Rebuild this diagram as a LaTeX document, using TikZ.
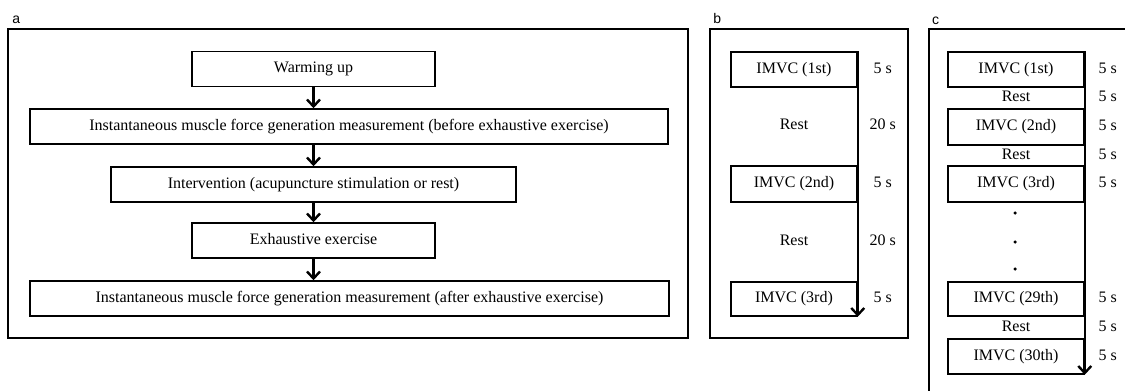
\documentclass[tikz,border=0pt]{standalone}
\usepackage{fontspec}
\setmainfont{Liberation Serif}
\newfontfamily\tagfont{Liberation Sans}
\usetikzlibrary{positioning,arrows.meta}
\tikzset{
  stage/.style={ % box of one stage of the protocol
    draw, rectangle, line width=1.5pt, minimum height=35pt,
    inner sep=0pt, text=black, text height=11pt, text depth=3.5pt,
    font=\fontsize{16}{19}\selectfont
  },
  imvc/.style={ % box of one contraction
    stage, minimum width=126pt
  },
  plain/.style={ % text with no box round it
    inner sep=0pt, text=black, text height=11pt, text depth=3.5pt,
    font=\fontsize{16}{19}\selectfont
  },
  panel/.style={ % frame round one part of the figure
    draw, rectangle, line width=1.8pt, inner sep=0pt
  },
  tag/.style={inner sep=0pt, font=\tagfont\fontsize{14}{16}\selectfont},
  flow/.style={-{Straight Barb[length=7pt,width=13pt]}, line width=2.4pt},
  dotmark/.style={circle, fill=black, inner sep=0pt, minimum size=3.5pt}
}
\begin{document}
\begin{tikzpicture}[x=1pt, y=-1pt]
    \useasboundingbox (0,0) rectangle (1125,391);

    % part a
    \node[panel, minimum width=680pt, minimum height=309pt] (fa) at (348,183.5) {};
    \node (a_label)[tag, above right=4pt and 5pt of fa.north west]{a};

    \node[stage, minimum width=243pt] (warm) at (313.5,69) {Warming up};
    \node[stage, minimum width=638pt] (before) at (349,126.5) {Instantaneous muscle force generation measurement (before exhaustive exercise)};
    \node[stage, minimum width=405pt] (interv) at (313.5,184.5) {Intervention (acupuncture stimulation or rest)};
    \node[stage, minimum width=243pt] (exhaust) at (313.5,240.5) {Exhaustive exercise};
    \node[stage, minimum width=639pt] (after) at (349.5,298.5) {Instantaneous muscle force generation measurement (after exhaustive exercise)};

    \draw[flow] (warm.south) -- (warm.south |- before.north);
    \draw[flow] (warm.south |- before.south) -- (interv.north);
    \draw[flow] (interv.south) -- (exhaust.north);
    \draw[flow] (exhaust.south) -- (exhaust.south |- after.north);

    % part b
    \node[panel, minimum width=198pt, minimum height=309pt] (fb) at (809,183.5) {};
    \node (b_label)[tag, above right=4pt and 4pt of fb.north west]{b};

    \node[imvc] (b1) at (794,69.5) {IMVC (1st)};
    \node[plain] (br1) at (794,126) {Rest};
    \node[imvc, minimum height=36pt] (b2) at (794,184) {IMVC (2nd)};
    \node[plain] (br2) at (794,242) {Rest};
    \node[imvc, minimum height=34pt] (b3) at (794,299) {IMVC (3rd)};

    \node[plain] (bt1) at ([xshift=25pt]b1.east) {5 s};
    \node[plain] (bt2) at (br1 -| bt1) {20 s};
    \node[plain] (bt3) at (b2 -| bt1) {5 s};
    \node[plain] (bt4) at (br2 -| bt1) {20 s};
    \node[plain] (bt5) at (b3 -| bt1) {5 s};

    \draw[flow] (b1.north east) -- (b3.south east);

    % part c (runs past the edge of the figure)
    \coordinate (fc_low) at (929,391);
    \coordinate (fc) at (929,29);
    \coordinate (fc_right) at (1125,29);
    \draw[panel, line width=2.6pt] (fc_low) -- (fc) -- (fc_right);
    \node (c_label)[tag, above right=4pt and 3pt of fc]{c};

    \node[imvc, minimum width=136pt] (c1) at (1016,69.5) {IMVC (1st)};
    \node[plain] (cr1) at (1016,98) {Rest};
    \node[imvc, minimum width=136pt, minimum height=36pt] (c2) at (1016,127) {IMVC (2nd)};
    \node[plain] (cr2) at (1016,155.5) {Rest};
    \node[imvc, minimum width=136pt, minimum height=36pt] (c3) at (1016,184) {IMVC (3rd)};
    \node[dotmark] (dot1) at (1015,213) {};
    \node[dotmark] (dot2) at (1015,242) {};
    \node[dotmark] (dot3) at (1015,269) {};
    \node[imvc, minimum width=136pt, minimum height=34pt] (c29) at (1016,299) {IMVC (29th)};
    \node[plain] (cr29) at (1016,327.5) {Rest};
    \node[imvc, minimum width=136pt] (c30) at (1016,356.5) {IMVC (30th)};

    \node[plain] (ct1) at ([xshift=23pt]c1.east) {5 s};
    \node[plain] (ct2) at (cr1 -| ct1) {5 s};
    \node[plain] (ct3) at (c2 -| ct1) {5 s};
    \node[plain] (ct4) at (cr2 -| ct1) {5 s};
    \node[plain] (ct5) at (c3 -| ct1) {5 s};
    \node[plain] (ct6) at (c29 -| ct1) {5 s};
    \node[plain] (ct7) at (cr29 -| ct1) {5 s};
    \node[plain] (ct8) at (c30 -| ct1) {5 s};

    \draw[flow] (c1.north east) -- (c30.south east);
  \end{tikzpicture}
\end{document}
